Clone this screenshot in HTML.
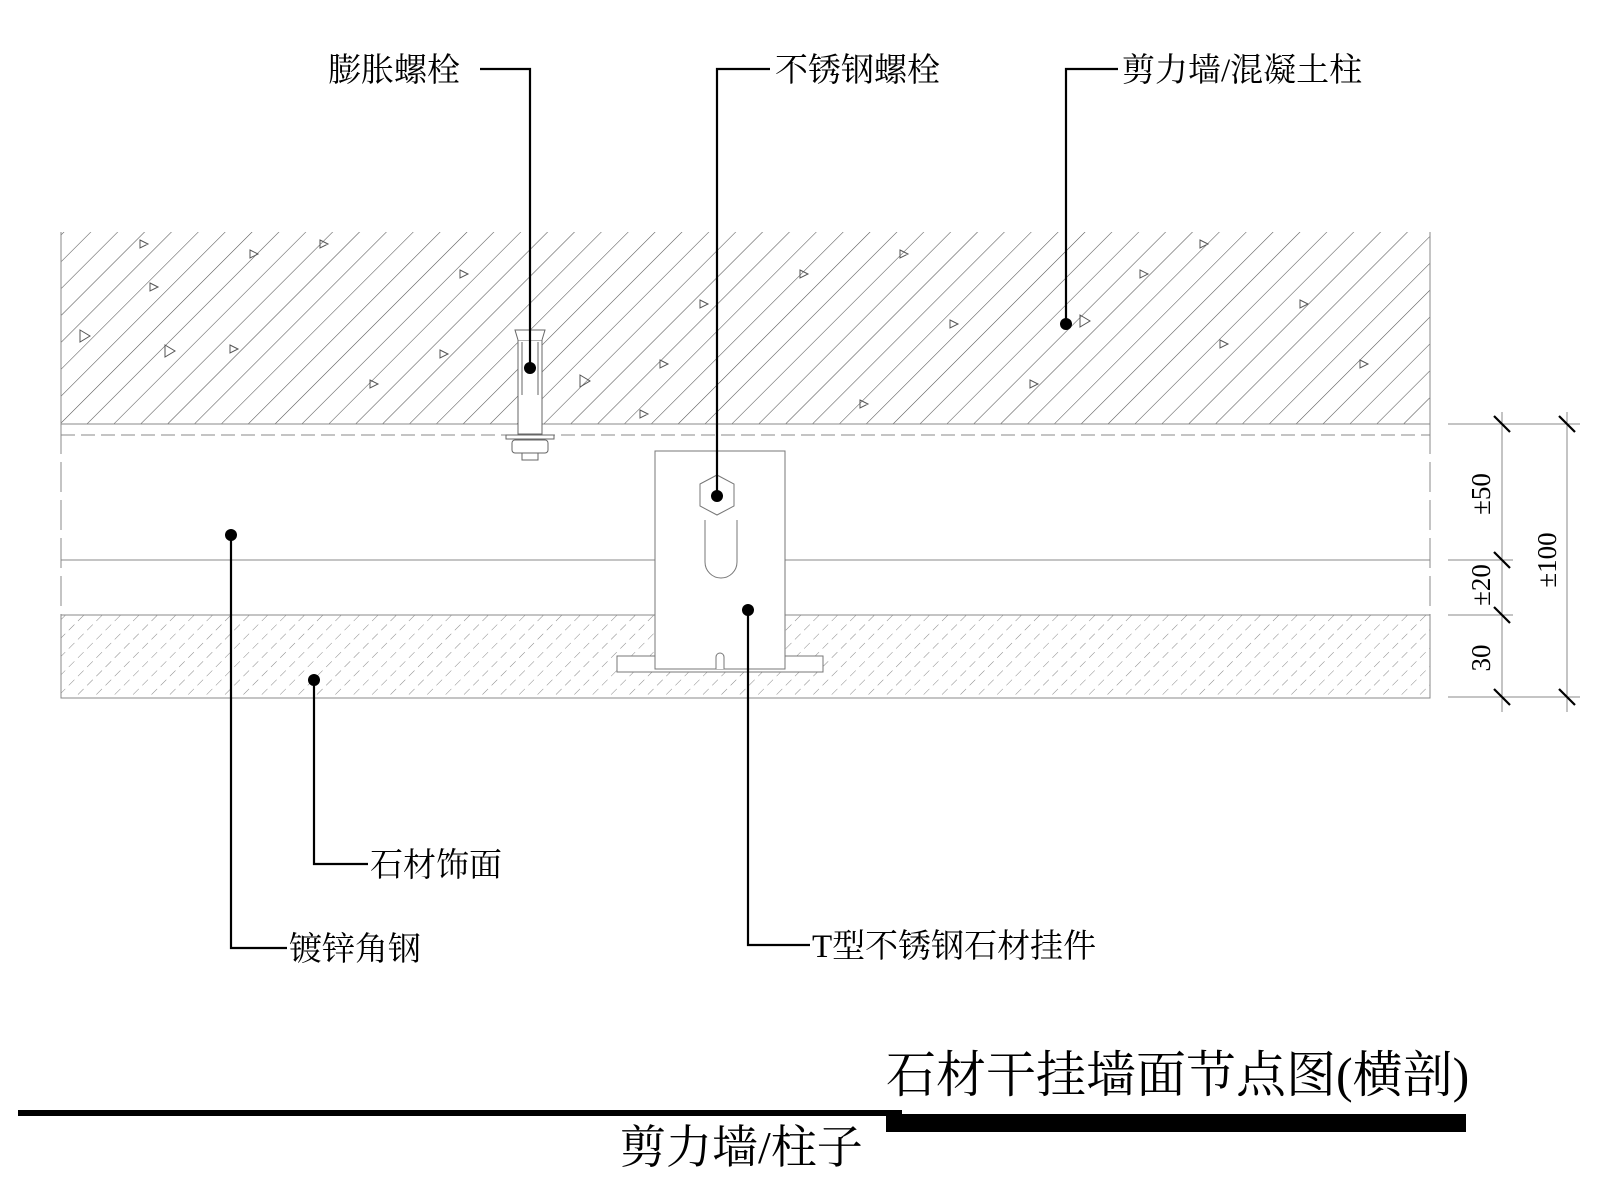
<!DOCTYPE html>
<html><head><meta charset="utf-8"><style>
html,body{margin:0;padding:0;background:#fff;}
svg{display:block;}
text{font-family:"Liberation Serif","Noto Serif CJK SC",serif;fill:#000;}
</style></head><body>
<svg width="1600" height="1200" viewBox="0 0 1600 1200" xmlns="http://www.w3.org/2000/svg">
<defs>
<pattern id="conc" width="19" height="19" patternUnits="userSpaceOnUse" patternTransform="rotate(45)">
<line x1="0" y1="0" x2="0" y2="19" stroke="#555" stroke-width="1.1"/>
</pattern>
<pattern id="stone" width="13" height="13" patternUnits="userSpaceOnUse" patternTransform="rotate(45)">
<line x1="0" y1="0" x2="0" y2="13" stroke="#888" stroke-width="1" stroke-dasharray="7,5"/>
</pattern>
</defs>
<rect x="61" y="232" width="1369" height="192" fill="url(#conc)"/>
<line x1="61" y1="232" x2="61" y2="424" stroke="#888"/>
<line x1="1430" y1="232" x2="1430" y2="424" stroke="#888"/>
<g fill="none" stroke="#555" stroke-width="1">
<path d="M140 240l8 4-8 4z M250 250l8 4-8 4z M150 283l8 4-8 4z M80 330l10 6-10 6z M230 345l8 4-8 4z M165 345l10 6-10 6z M440 350l8 4-8 4z M660 360l8 4-8 4z M800 270l8 4-8 4z M900 250l8 4-8 4z M950 320l8 4-8 4z M1080 315l10 6-10 6z M1200 240l8 4-8 4z M1300 300l8 4-8 4z M1360 360l8 4-8 4z M1220 340l8 4-8 4z M640 410l8 4-8 4z M370 380l8 4-8 4z M580 375l10 6-10 6z M1030 380l8 4-8 4z M860 400l8 4-8 4z M460 270l8 4-8 4z M320 240l8 4-8 4z M1140 270l8 4-8 4z M700 300l8 4-8 4z"/>
</g>
<line x1="61" y1="424" x2="1430" y2="424" stroke="#888"/>
<line x1="61" y1="435" x2="1430" y2="435" stroke="#888" stroke-dasharray="14,6"/>
<line x1="61" y1="424" x2="61" y2="615" stroke="#888" stroke-dasharray="30,8"/>
<line x1="1430" y1="424" x2="1430" y2="615" stroke="#888" stroke-dasharray="30,8"/>
<line x1="61" y1="560" x2="1430" y2="560" stroke="#888"/>
<rect x="61" y="615" width="1369" height="83" fill="url(#stone)" stroke="#888"/>
<g fill="#fff" stroke="#666" stroke-width="1">
<rect x="518" y="340" width="24" height="94"/>
<path d="M518 340l-3-10h30l-3 10" />
<line x1="522" y1="342" x2="522" y2="395"/><line x1="538" y1="342" x2="538" y2="395"/>
<rect x="506" y="435" width="48" height="4"/>
<rect x="512" y="440" width="36" height="13" rx="3"/>
<rect x="522" y="453" width="16" height="7"/>
</g>
<g fill="#fff" stroke="#777" stroke-width="1">
<rect x="617" y="656" width="206" height="16"/>
<rect x="655" y="451" width="130" height="218"/>
<path d="M716 669v-12a4 4 0 0 1 8 0v12"/>
<path d="M705 520v42a16 16 0 0 0 32 0v-42"/>
<path d="M700 484l17-9 17 9v22l-17 9-17-9z"/>
</g>
<g stroke="#888" stroke-width="1">
<line x1="1448" y1="424" x2="1580" y2="424"/>
<line x1="1448" y1="560" x2="1513" y2="560"/>
<line x1="1448" y1="615" x2="1513" y2="615"/>
<line x1="1448" y1="697" x2="1580" y2="697"/>
<line x1="1502" y1="412" x2="1502" y2="712"/>
<line x1="1567" y1="412" x2="1567" y2="712"/>
</g>
<g stroke="#000" stroke-width="2.2">
<line x1="1494" y1="416" x2="1510" y2="432"/><line x1="1559" y1="416" x2="1575" y2="432"/>
<line x1="1494" y1="552" x2="1510" y2="568"/>
<line x1="1494" y1="607" x2="1510" y2="623"/>
<line x1="1494" y1="689" x2="1510" y2="705"/><line x1="1559" y1="689" x2="1575" y2="705"/>
</g>
<g font-size="27">
<text transform="translate(1490,494) rotate(-90)" text-anchor="middle">±50</text>
<text transform="translate(1490,585) rotate(-90)" text-anchor="middle">±20</text>
<text transform="translate(1490,658) rotate(-90)" text-anchor="middle">30</text>
<text transform="translate(1556,560) rotate(-90)" text-anchor="middle">±100</text>
</g>
<g stroke="#000" stroke-width="2.2" fill="none">
<path d="M480 69H530V368"/>
<path d="M717 496V69H770"/>
<path d="M1118 69H1066V324"/>
<path d="M231 535V948H287"/>
<path d="M314 680V864H368"/>
<path d="M748 610V945H810"/>
</g>
<g fill="#000">
<circle cx="530" cy="368" r="6"/><circle cx="717" cy="496" r="6"/><circle cx="1066" cy="324" r="6"/>
<circle cx="231" cy="535" r="6"/><circle cx="314" cy="680" r="6"/><circle cx="748" cy="610" r="6"/>
</g>
<g font-size="33">
<text x="328" y="81">膨胀螺栓</text>
<text x="775" y="81">不锈钢螺栓</text>
<text x="1122" y="81">剪力墙/混凝土柱</text>
<text x="289" y="960">镀锌角钢</text>
<text x="370" y="876">石材饰面</text>
<text x="812" y="957">T型不锈钢石材挂件</text>
</g>
<text x="886" y="1092" font-size="50">石材干挂墙面节点图(横剖)</text>
<rect x="18" y="1110" width="884" height="6" fill="#000"/>
<rect x="886" y="1114" width="580" height="18" fill="#000"/>
<text x="620" y="1163" font-size="46">剪力墙/柱子</text>
</svg>
</body></html>
